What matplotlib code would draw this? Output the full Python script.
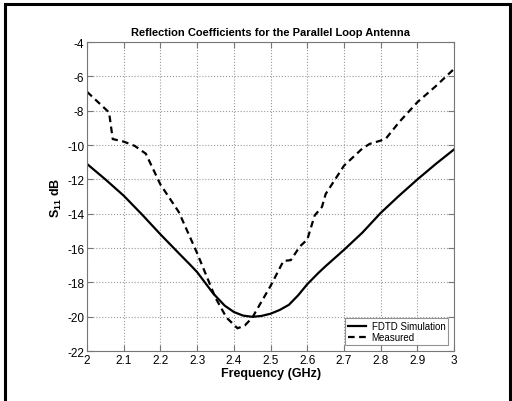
import matplotlib
matplotlib.use("Agg")
import matplotlib.pyplot as plt
from matplotlib.patches import Rectangle

plt.rcParams['font.family'] = ['Liberation Sans', 'DejaVu Sans']
plt.rcParams['mathtext.fontset'] = 'custom'
plt.rcParams['mathtext.rm'] = 'Liberation Sans'
plt.rcParams['mathtext.bf'] = 'Liberation Sans:bold'
plt.rcParams['axes.unicode_minus'] = False

sim_f = [2.0, 2.05, 2.1, 2.15, 2.2, 2.25, 2.28, 2.3, 2.344, 2.375, 2.4, 2.425, 2.45, 2.475, 2.5, 2.525, 2.55, 2.575, 2.6, 2.63, 2.65, 2.7, 2.735, 2.75, 2.8, 2.85, 2.9, 2.95, 3.0]
sim_s = [-11.1, -12.0, -12.95, -14.05, -15.2, -16.3, -16.95, -17.4, -18.65, -19.35, -19.72, -19.93, -20.0, -19.95, -19.82, -19.6, -19.3, -18.75, -18.1, -17.45, -17.05, -16.1, -15.4, -15.1, -13.95, -12.95, -12.0, -11.1, -10.25]

meas_f = [2.0, 2.03, 2.06, 2.07, 2.1, 2.13, 2.16, 2.2, 2.25, 2.3, 2.35, 2.38, 2.41, 2.43, 2.45, 2.5, 2.535, 2.555, 2.58, 2.6, 2.62, 2.64, 2.65, 2.7, 2.73, 2.75, 2.77, 2.8, 2.815, 2.85, 2.9, 2.95, 3.0]
meas_s = [-6.9, -7.5, -8.1, -9.65, -9.8, -10.05, -10.5, -12.3, -13.9, -16.3, -18.9, -20.05, -20.67, -20.5, -20.05, -18.2, -16.75, -16.7, -15.9, -15.5, -14.1, -13.6, -12.85, -11.2, -10.6, -10.2, -9.93, -9.74, -9.6, -8.67, -7.5, -6.57, -5.56]

xticks = [2, 2.1, 2.2, 2.3, 2.4, 2.5, 2.6, 2.7, 2.8, 2.9, 3]
xtick_labels = ['2', '2.1', '2.2', '2.3', '2.4', '2.5', '2.6', '2.7', '2.8', '2.9', '3']
yticks = [-22, -20, -18, -16, -14, -12, -10, -8, -6, -4]

fig = plt.figure(figsize=(5.12, 4.02), dpi=100)
ax = fig.add_axes([0.170, 0.124, 0.717, 0.769])

ax.plot(sim_f, sim_s, color='black', lw=1.6, label='FDTD Simulation')
ax.plot(meas_f, meas_s, color='black', lw=1.6, ls=(0, (3, 2)), label='Measured')

ax.set_xlim(2, 3)
ax.set_ylim(-22, -4)
ax.set_xticks(xticks)
ax.set_xticklabels(xtick_labels)
ax.set_yticks(yticks)
ax.tick_params(direction='in', length=4, labelsize=8.5, color='#777777', top=True, right=True, pad=2)
ax.grid(True, ls=':', color='#999999', lw=0.8)
for s in ax.spines.values():
    s.set_color('#777777')

ax.set_title('Reflection Coefficients for the Parallel Loop Antenna', fontsize=8, fontweight='bold', pad=5)
ax.set_xlabel('Frequency (GHz)', fontsize=9, fontweight='bold', labelpad=1)
ax.set_ylabel(r'S$_{\mathbf{11}}$ dB', fontsize=9, fontweight='bold', labelpad=2)

leg = ax.legend(loc='lower right', fontsize=7, frameon=True, fancybox=False, edgecolor='#777777',
                handlelength=1.8, handletextpad=0.6, borderpad=0.3, labelspacing=0.15, borderaxespad=0.6)
leg.get_frame().set_linewidth(0.8)

fig.patches.append(Rectangle((5/512, -0.1), 505/512, 1.1 - 5/402, transform=fig.transFigure,
                             fill=False, edgecolor='black', lw=2.2))

fig.savefig('out.png', dpi=100)
